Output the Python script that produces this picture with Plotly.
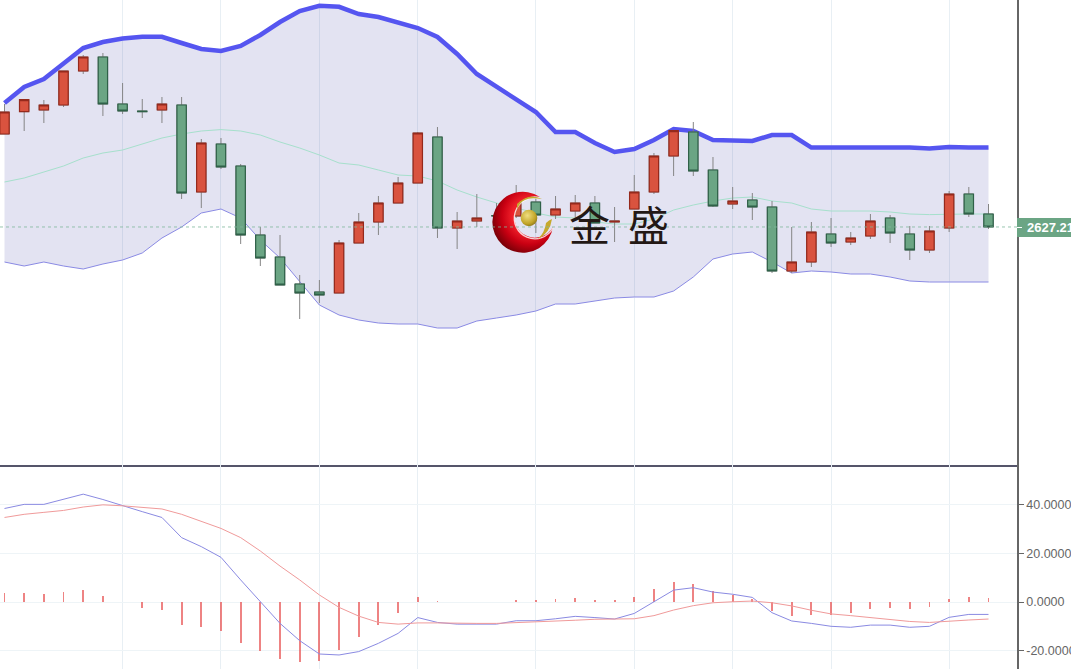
import base64
import plotly.graph_objects as go
from plotly.subplots import make_subplots

index = list(range(51))
opens = [2673.7,2684.9,2685.7,2688.2,2705.2,2712.2,2688.7,2685.2,2685.7,2688.2,2644.7,2668.7,2657.7,2623.2,2612.2,2598.7,2594.7,2594.2,2619.2,2629.7,2639.2,2649.2,2672.2,2626.7,2630.2,2632.9,2632.7,2639.7,2633.2,2635.2,2639.2,2629.7,2636.2,2644.7,2662.7,2674.7,2655.7,2638.7,2640.7,2637.2,2605.2,2609.7,2623.7,2619.7,2622.7,2631.7,2623.7,2615.7,2626.7,2643.7,2633.7]
closes = [2684.7,2690.9,2688.2,2705.2,2712.2,2688.7,2685.2,2684.9,2688.7,2644.2,2669.2,2657.2,2623.2,2611.7,2598.2,2594.2,2593.2,2619.2,2629.7,2639.2,2649.2,2674.2,2626.7,2630.2,2631.7,2632.7,2639.7,2633.2,2636.2,2639.2,2629.2,2630.2,2644.7,2662.7,2675.4,2655.2,2637.7,2640.2,2637.2,2605.2,2609.7,2624.7,2619.2,2621.7,2630.2,2624.2,2615.7,2625.2,2643.7,2633.7,2627.21]
highs = [2688.7,2691.2,2690.7,2705.2,2713.2,2714.2,2699.2,2691.2,2692.2,2692.2,2671.2,2671.7,2658.7,2627.2,2623.2,2603.2,2600.7,2620.7,2634.2,2642.7,2652.2,2674.7,2677.2,2634.7,2643.7,2639.2,2648.2,2641.2,2642.7,2643.2,2642.7,2637.2,2653.2,2664.2,2675.7,2679.7,2662.2,2647.2,2644.2,2640.2,2627.2,2629.7,2631.7,2624.7,2633.7,2633.2,2627.7,2627.7,2645.2,2647.2,2638.7]
lows = [2673.7,2675.2,2679.2,2687.2,2703.7,2682.7,2683.7,2681.7,2679.2,2641.2,2636.7,2656.2,2618.7,2607.7,2598.2,2581.2,2589.2,2594.2,2619.2,2623.2,2639.2,2649.2,2621.7,2616.2,2627.2,2625.7,2631.7,2624.2,2631.2,2630.7,2629.2,2619.7,2636.2,2643.7,2652.7,2652.7,2637.2,2636.2,2630.7,2604.2,2604.2,2607.2,2617.2,2618.2,2621.2,2619.2,2610.7,2614.2,2624.7,2632.2,2626.2]

band_upper = [2689.2,2697.2,2701.2,2708.7,2716.7,2719.7,2721.4,2722.3,2722.3,2719.2,2716.2,2715.2,2717.7,2723.2,2729.7,2735.2,2737.8,2737.3,2733.7,2732.2,2729.2,2726.7,2722.2,2713.7,2703.7,2697.2,2691.2,2684.7,2674.7,2674.7,2669.2,2664.7,2666.2,2670.7,2676.2,2675.2,2670.7,2670.2,2670.2,2673.2,2673.2,2666.9,2666.9,2667.2,2666.9,2666.9,2666.9,2666.4,2667.2,2666.9,2666.9]
band_middle = [2649.7,2651.7,2654.7,2657.7,2661.7,2664.2,2665.7,2668.7,2671.7,2673.7,2675.2,2675.9,2675.2,2673.2,2669.7,2666.7,2663.2,2659.2,2658.2,2655.7,2653.2,2652.7,2650.2,2645.7,2642.2,2639.2,2636.7,2634.2,2632.2,2631.7,2629.7,2628.7,2628.7,2631.2,2635.7,2638.2,2640.2,2641.7,2642.2,2640.2,2639.2,2636.2,2635.2,2635.2,2635.2,2634.7,2633.7,2633.4,2633.7,2633.7,2633.7]
band_lower = [2609.7,2607.7,2609.7,2607.7,2606.2,2608.7,2610.7,2614.2,2621.7,2627.2,2634.2,2636.2,2631.7,2620.7,2611.7,2599.7,2588.2,2583.2,2580.7,2579.2,2578.7,2578.7,2576.7,2576.7,2580.2,2581.7,2583.2,2585.2,2588.7,2588.7,2590.2,2591.7,2592.2,2592.2,2595.2,2602.2,2611.2,2613.7,2614.7,2609.7,2604.2,2605.2,2604.7,2603.7,2603.7,2602.2,2600.2,2599.7,2599.7,2599.7,2599.7]

macd_ticks = [40, 20, 0, -20]
macd_tick_text = ["40.0000", "20.0000", "0.0000", "-20.0000"]
grid_index = [6, 11, 16, 21, 27, 32, 37, 42, 48]
dif = [38.5,40.2,40.2,42.2,44.4,42.2,39.6,37.2,34.8,26.5,22.8,18.4,9.1,0.1,-8.8,-15.9,-21.4,-21.8,-20.4,-17,-12.9,-6.4,-8.4,-9.1,-9.1,-9.1,-7.7,-7.7,-6.9,-5.9,-6.4,-7,-4.7,0,4.9,5.9,4.1,3.2,1.9,-4.4,-7.8,-8.8,-10,-10.4,-9.5,-9.5,-10.4,-10,-6.3,-5.1,-5.1]
dea = [34.8,36.1,36.9,37.7,39.1,40,39.6,39,38.3,36.1,33.3,30.3,26.5,21,14.8,9.1,2.9,-2.2,-5.8,-8.4,-9.1,-8.6,-8.6,-8.8,-8.8,-8.8,-8.5,-8.2,-8.1,-7.5,-7.1,-7.1,-6.9,-5.6,-3.3,-1.5,-0.3,0.1,0.4,-0.3,-1.6,-3.4,-4.9,-5.6,-6.4,-7,-8,-8.4,-7.8,-7.4,-7]
hist = [3.8,3.8,3.3,4.1,4.9,2.5,0,-2.3,-3.2,-9.3,-10.2,-11.9,-16.7,-20.2,-23.3,-24.6,-24.3,-19.8,-14.5,-9.3,-4.4,2.1,0.3,0,0,0,0.7,0.7,1.1,1.6,0.7,0.7,2.1,5.2,8.1,7.5,4.7,2.9,1.1,-3.6,-5.8,-5.3,-5.3,-4.5,-2.7,-2.3,-2.7,-1.9,1.1,2.1,1.6]
last_price = 2627.21
last_label = "2627.21"
brand = ["金", "盛"]

W, H, PLOT_W, SPLIT = 1071, 669, 1017, 465
RED, RED_EDGE, GREEN, GREEN_EDGE = "#d9533f", "#95291c", "#6ba584", "#2f6148"
PRICE_RANGE = [2508.2, 2740.7]

fig = make_subplots(rows=2, cols=1, shared_xaxes=True, vertical_spacing=0,
                    row_heights=[SPLIT / H, (H - SPLIT) / H])

fig.add_trace(go.Scatter(x=index, y=band_upper, mode="lines", line=dict(color="#5555f0", width=4.5)), 1, 1)
fig.add_trace(go.Scatter(x=index, y=band_lower, mode="lines", line=dict(color="#8a8ae4", width=1),
                         fill="tonexty", fillcolor="rgba(60,60,160,0.14)"), 1, 1)
fig.add_trace(go.Scatter(x=index, y=band_middle, mode="lines", line=dict(color="#a6e0cc", width=1)), 1, 1)

# Candles sit on an overlaid axis so the band fill does not tint them.
fig.add_trace(go.Candlestick(x=index, open=opens, high=highs, low=lows, close=closes, whiskerwidth=0,
                             xaxis="x", yaxis="y3",
                             increasing=dict(line=dict(color="#858585", width=1), fillcolor=RED),
                             decreasing=dict(line=dict(color="#858585", width=1), fillcolor=GREEN)))
fig.add_trace(go.Candlestick(x=index, open=opens, close=closes, whiskerwidth=0, xaxis="x", yaxis="y3",
                             high=[max(a, b) for a, b in zip(opens, closes)],
                             low=[min(a, b) for a, b in zip(opens, closes)],
                             increasing=dict(line=dict(color=RED_EDGE, width=1.2), fillcolor=RED),
                             decreasing=dict(line=dict(color=GREEN_EDGE, width=1.2), fillcolor=GREEN)))

fig.add_trace(go.Bar(x=index, y=hist, width=0.095, marker=dict(color="rgba(232,90,90,0.75)", line_width=0)), 2, 1)
fig.add_trace(go.Scatter(x=index, y=dif, mode="lines", line=dict(color="#8a8ae2", width=1)), 2, 1)
fig.add_trace(go.Scatter(x=index, y=dea, mode="lines", line=dict(color="#f09a9a", width=1)), 2, 1)

x_range = [-4.5 / 19.68, (PLOT_W - 4.5) / 19.68]
axis_x = dict(range=x_range, tickmode="array", tickvals=grid_index, showticklabels=False, ticks="",
              showgrid=True, gridcolor="#e8eff4", gridwidth=1, zeroline=False, automargin=False,
              rangeslider=dict(visible=False))
fig.update_xaxes(**axis_x, showline=True, linecolor="#55556a", linewidth=1.5, row=1, col=1)
fig.update_xaxes(**axis_x, showline=False, row=2, col=1)
fig.update_yaxes(range=PRICE_RANGE, side="right", showgrid=False, zeroline=False, showticklabels=False,
                 ticks="", showline=True, linecolor="#666666", linewidth=1.5, automargin=False, row=1, col=1)
fig.update_yaxes(range=[-27.57, 56.4], side="right", tickmode="array", tickvals=macd_ticks, ticktext=macd_tick_text,
                 showgrid=True, gridcolor="#eef4f7", gridwidth=1, zeroline=False, ticks="outside", ticklen=5,
                 tickcolor="#666666", showline=True, linecolor="#666666", linewidth=1.5, automargin=False,
                 tickfont=dict(family="Liberation Sans", size=12.5, color="#666666"), row=2, col=1)
fig.update_layout(yaxis3=dict(overlaying="y", anchor="x", side="right", range=PRICE_RANGE, visible=False,
                              showgrid=False, zeroline=False, automargin=False))

# Watermark logo (the reference shows it as a transparent picture)
logo_svg = """<svg xmlns="http://www.w3.org/2000/svg" width="64" height="64" viewBox="0 0 64 64">
<defs><radialGradient id="r" cx="0.62" cy="0.4" r="0.64"><stop offset="0.45" stop-color="#f0202a"/><stop offset="0.72" stop-color="#c90012"/><stop offset="1" stop-color="#7c0008"/></radialGradient>
<radialGradient id="g" cx="0.4" cy="0.35" r="0.7"><stop offset="0" stop-color="#f0de80"/><stop offset="0.7" stop-color="#c2a528"/><stop offset="1" stop-color="#8a7418"/></radialGradient></defs>
<path fill="url(#r)" d="M48 6 A30.5 30.5 0 1 0 61 36 A20.6 20.6 0 1 1 48 6Z"/>
<path fill="none" stroke="#ffffff" stroke-opacity="0.8" stroke-width="1.3" d="M61 37 A20.6 20.6 0 1 1 47 7"/>
<path fill="#c6a92c" d="M25 13 Q37 1 50 8 Q38 6 33 9 Q28 11 25 18Z M46 48 Q53 41 54 32 Q57 29 60 28 Q58 42 46 48Z"/>
<circle cx="37" cy="27" r="8.3" fill="url(#g)"/></svg>"""
logo_uri = "data:image/svg+xml;base64," + base64.b64encode(logo_svg.encode()).decode()
fig.add_layout_image(source=logo_uri, xref="paper", yref="paper", x=492 / PLOT_W, y=1 - 191 / H,
                     sizex=64 / PLOT_W, sizey=64 / H, xanchor="left", yanchor="top", sizing="stretch", layer="above")

for ch, cx in zip(brand, [589, 648]):
    fig.add_annotation(text=ch, xref="paper", yref="paper", x=cx / PLOT_W, y=1 - 223.5 / H, showarrow=False,
                       font=dict(family="Noto Sans CJK SC", size=41, color="#231815"),
                       xanchor="center", yanchor="middle")

# Last-price line and tag
fig.add_shape(type="line", xref="x", yref="y", x0=x_range[0], x1=x_range[1], y0=last_price, y1=last_price,
              line=dict(color="#7fb69a", width=0.8, dash="dot"))
fig.add_shape(type="rect", xref="paper", yref="paper", x0=1, x1=W / PLOT_W + 0.01, y0=1 - 237 / H, y1=1 - 218 / H,
              fillcolor="#6ba584", line_width=0, layer="above")
fig.add_shape(type="line", xref="paper", yref="paper", x0=1, x1=1022 / PLOT_W, y0=1 - 227.5 / H, y1=1 - 227.5 / H,
              line=dict(color="#ffffff", width=1), layer="above")
fig.add_annotation(text="<b>" + last_label + "</b>", xref="paper", yref="paper", x=1025 / PLOT_W, y=1 - 227.5 / H,
                   xanchor="left", yanchor="middle", showarrow=False,
                   font=dict(family="Liberation Sans", size=13, color="#ffffff"))

fig.update_layout(width=W, height=H, margin=dict(l=0, r=W - PLOT_W, t=0, b=0), showlegend=False,
                  paper_bgcolor="#ffffff", plot_bgcolor="#ffffff", boxgap=0.32, boxmode="overlay", bargap=0, hovermode=False)
fig.write_html("out.html", config={"displayModeBar": False},
               post_script="document.body.style.margin='0';document.documentElement.style.overflow='hidden';")
